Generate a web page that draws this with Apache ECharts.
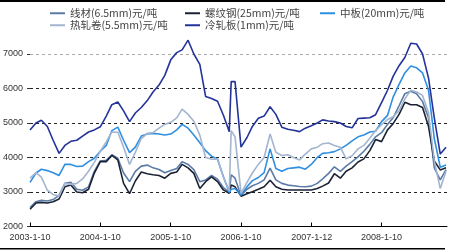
<!DOCTYPE html>
<html>
<head>
<meta charset="utf-8">
<script src="https://cdn.jsdelivr.net/npm/echarts@6/dist/echarts.min.js"></script>
<style>html,body{margin:0;padding:0;background:#fff}#c{width:450px;height:250px}</style>
</head>
<body>
<div id="c"></div>
<script>
// Dates (monthly, plus one extra point for the late-2005 spike)
var dates = [
 '2003-01-10','2003-02-10','2003-03-10','2003-04-10','2003-05-10','2003-06-10','2003-07-10','2003-08-10','2003-09-10','2003-10-10','2003-11-10','2003-12-10',
 '2004-01-10','2004-02-10','2004-03-10','2004-04-10','2004-05-10','2004-06-10','2004-07-10','2004-08-10','2004-09-10','2004-10-10','2004-11-10','2004-12-10',
 '2005-01-10','2005-02-10','2005-03-10','2005-04-10','2005-05-10','2005-06-10','2005-07-10','2005-08-10','2005-09-10','2005-10-10','2005-11-10','2005-11-20','2005-12-10',
 '2006-01-10','2006-02-10','2006-03-10','2006-04-10','2006-05-10','2006-06-10','2006-07-10','2006-08-10','2006-09-10','2006-10-10','2006-11-10','2006-12-10',
 '2007-01-10','2007-02-10','2007-03-10','2007-04-10','2007-05-10','2007-06-10','2007-07-10','2007-08-10','2007-09-10','2007-10-10','2007-11-10','2007-12-10',
 '2008-01-10','2008-02-10','2008-03-10','2008-04-10','2008-05-10','2008-06-10','2008-07-10','2008-08-10','2008-09-10','2008-10-10','2008-11-10','2008-12-10'
];
var seriesNames = ['线材(6.5mm)元/吨','螺纹钢(25mm)元/吨','中板(20mm)元/吨','热轧卷(5.5mm)元/吨','冷轧板(1mm)元/吨'];
var wireRod = [
 2550,2720,2760,2740,2780,2900,3250,3280,3080,3050,3150,3600,
 3900,3920,4080,3980,3550,3300,3600,3750,3780,3700,3650,3560,
 3620,3680,3880,3800,3650,3300,3350,3480,3370,3130,2990,3500,3400,
 2900,3080,3180,3250,3350,3690,3350,3250,3200,3180,3160,3150,
 3170,3250,3380,3540,3730,3600,3750,3880,4020,4180,4380,4600,
 4720,4960,5150,5500,5850,5920,5850,5620,5150,3700,3350,3650
];
var rebar = [
 2500,2680,2700,2680,2720,2800,3150,3200,3000,2980,3080,3550,
 3880,3880,4060,3930,3250,2950,3320,3580,3530,3500,3480,3400,
 3540,3580,3800,3700,3540,3100,3300,3440,3300,3060,2960,3200,3150,
 2880,2950,3010,3080,3150,3340,3150,3080,3060,3060,3060,3060,
 3060,3100,3170,3260,3530,3400,3600,3700,3870,3960,4200,4520,
 4460,4800,4980,5250,5600,5530,5530,5450,4900,3900,3640,3700
];
var plate = [
 3280,3550,3660,3620,3560,3480,3800,3800,3740,3750,3880,3980,
 4180,4350,4780,4880,4500,4140,4300,4620,4680,4700,4680,4650,
 4680,4800,4960,4850,4650,4430,4200,4040,3950,3450,2990,3080,3100,
 2910,3150,3330,3420,3560,4250,3680,3600,3680,3700,3720,3660,
 3800,4000,4120,4140,4170,4250,4350,4480,4600,4650,4740,4760,
 5040,5220,5750,6120,6450,6650,6600,6450,5950,4550,3720,3780
];
var hotCoil = [
 3400,3560,3430,3050,2930,2880,3250,3220,3250,3380,3600,3860,
 4180,4450,4740,4730,4300,3800,4150,4550,4700,4720,4850,4960,
 5020,5150,5400,5250,5050,4650,4000,3950,3960,3450,3020,4780,4600,
 2960,3280,3550,3800,4000,4680,4150,4060,4080,4000,3930,4100,
 4250,4300,4400,4420,4350,4300,3960,4050,4250,4350,4560,4780,
 4950,5100,5180,5350,5700,5950,5900,5800,5300,3900,3100,3600
];
var coldSheet = [
 4800,5000,5080,4900,4500,4120,4350,4470,4500,4620,4740,4800,
 4890,5200,5530,5610,5350,5040,5290,5450,5650,5900,6100,6380,
 6830,7040,7120,7400,7000,6700,5770,5710,5630,5230,4750,6200,6200,
 4300,4580,4900,5140,5200,5470,5250,4880,4820,4790,4750,4850,
 4920,5000,5090,5060,5040,5000,4900,4860,5130,5140,5150,5240,
 5590,5950,6350,6660,6900,7310,7290,7000,6300,5150,4100,4300
];
var tickDates = ['2003-01-10','2004-01-10','2005-01-10','2006-01-10','2007-01-12','2008-01-10'];
var tickLabels = ['2003-1-10','2004-1-10','2005-1-10','2006-1-10','2007-1-12','2008-1-10'];
var colors = ['#5b7ba6','#1a2233','#2f8fe0','#a3b5cf','#23339a'];

// day number since epoch (UTC) so values are plain numbers on a value axis
function toDay(s){var p=s.split('-').map(Number);return Date.UTC(p[0],p[1]-1,p[2])/86400000;}
var tickDays = tickDates.map(toDay);
var allValues = [wireRod, rebar, plate, hotCoil, coldSheet];

var chart = echarts.init(document.getElementById('c'), null, {renderer:'canvas'});
var legendPos = [[50,8],[185,8],[320,8],[50,20],[185,20]];
var legends = seriesNames.map(function(n,i){
  return {
    data:[n], left:legendPos[i][0], top:legendPos[i][1], padding:0,
    icon:'rect', itemWidth:15, itemHeight:2, itemGap:4,
    textStyle:{fontSize:10.5, color:'#444', fontFamily:'Noto Sans CJK SC'}
  };
});
chart.setOption({
  animation:false,
  backgroundColor:'#fff',
  color:colors,
  legend:legends,
  grid:{left:30, right:3, top:54, bottom:23.5},
  xAxis:{
    type:'value',
    min:toDay('2003-01-10'), max:toDay('2008-12-15'),
    axisLine:{show:true, lineStyle:{color:'#000', width:1}},
    axisTick:{show:true, inside:true, length:4, customValues:tickDays, lineStyle:{color:'#000'}},
    axisLabel:{
      customValues:tickDays, fontSize:9, color:'#333', margin:7, fontFamily:'Arial',
      formatter:function(v){var i=tickDays.indexOf(v);return i>=0?tickLabels[i]:'';}
    },
    splitLine:{show:false}
  },
  yAxis:{
    type:'value', min:2000, max:7000, interval:1000,
    axisLine:{show:false},
    axisTick:{show:true, length:3, lineStyle:{color:'#333'}},
    axisLabel:{fontSize:9, color:'#333', margin:7, fontFamily:'Arial', formatter:function(v){return String(v);}},
    splitLine:{show:true, lineStyle:{type:[3,3], width:1, color:['#000','#222','#222','#222','#222','#aaa']}}
  },
  graphic:[
    {type:'rect', shape:{x:0,y:0,width:445,height:2}, style:{fill:'#000'}},
    {type:'rect', shape:{x:0,y:248,width:445,height:1.5}, style:{fill:'#000'}}
  ],
  series: seriesNames.map(function(n,i){
    return {
      name:n, type:'line', symbol:'none', clip:false,
      lineStyle:{width:1.6, color:colors[i]}, itemStyle:{color:colors[i]},
      data: dates.map(function(d,k){return [toDay(d), allValues[i][k]];})
    };
  })
});
</script>
</body>
</html>
